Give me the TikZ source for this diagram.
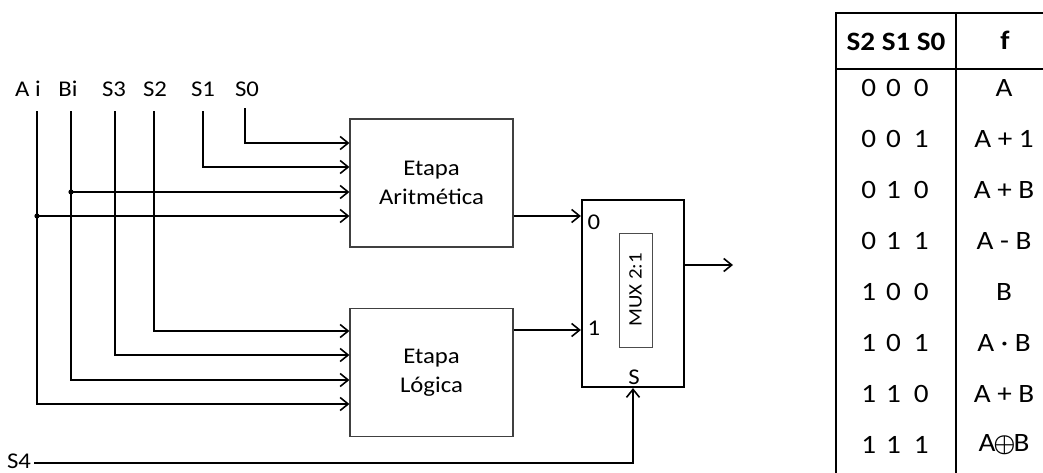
\documentclass[tikz,border=0pt]{standalone}
\usepackage{amsmath}
\usepackage{fontspec}
\setmainfont{Carlito}[FakeStretch=1.1]
\usetikzlibrary{arrows.meta}
\tikzset{
	fleche/.style={-{Straight Barb[length=8pt,width=13pt]},line width=1.6pt},
	bloc/.style={draw=black!75,line width=1.2pt,minimum width=163pt,minimum height=128pt,align=center,font=\fontsize{22.5}{29}\selectfont},
	etiq/.style={font=\fontsize{22.5}{25}\selectfont},
	tabl/.style={line width=2.4pt},
	tabtxt/.style={font=\fontsize{26.5}{30}\selectfont}
}
\newcommand\trois[3]{#1\hspace{10pt}#2\hspace{13pt}#3}
\begin{document}
\begin{tikzpicture}[x=1pt,y=-1pt]
		\useasboundingbox (0,0) rectangle (1043,472);
		\clip (0,0) rectangle (1043,472);
		
		% entrees
		\node[etiq] (lai) at (28,89) {A i};
		\node[etiq] (lbi) at (68,89) {Bi};
		\node[etiq] (ls3) at (114,89) {S3};
		\node[etiq] (ls2) at (155,89) {S2};
		\node[etiq] (ls1) at (203,89) {S1};
		\node[etiq] (ls0) at (247,89) {S0};
		\coordinate (ai) at (37,111);
		\coordinate (bi) at (71,111);
		\coordinate (s3) at (115,111);
		\coordinate (s2) at (154,111);
		\coordinate (s1) at (203,111);
		\coordinate (s0) at (245,108);
		\coordinate (ai1) at (37,216);
		\coordinate (bi1) at (71,192);
		
		% blocs
		\node[bloc] (arit) at (431.5,183) {Etapa\\Aritmética};
		\node[bloc] (logi) at (431.5,372.5) {Etapa\\Lógica};
		\node[draw,line width=2.2pt,minimum width=102pt,minimum height=187pt] (mux) at (633,293.5) {};
		\node[draw=black!70,line width=1pt,minimum width=114pt,minimum height=33pt,rotate=90,font=\fontsize{19}{20}\selectfont] (muxtxt) at (635.5,290) {MUX 2:1};
		\node[etiq] (m0) at (594,222) {0};
		\node[etiq] (m1) at (594,328) {1};
		\node[etiq] (ms) at (634,377) {S};
		
		\draw[fleche] (s0) |- (arit.west |- 0,143);
		\draw[fleche] (s1) |- (arit.west |- 0,167);
		\draw[fleche] (bi1) -- (arit.west |- bi1);
		\draw[fleche] (ai1) -- (arit.west |- ai1);
		\fill (bi1) circle (2.6pt);
		\fill (ai1) circle (2.6pt);
		\draw[fleche] (s2) |- (logi.west |- 0,331);
		\draw[fleche] (s3) |- (logi.west |- 0,355);
		\draw[fleche] (bi) |- (logi.west |- 0,380);
		\draw[fleche] (ai) |- (logi.west |- 0,404);
		
		\draw[fleche] (arit.east |- 0,216) -- (mux.west |- 0,216);
		\draw[fleche] (logi.east |- 0,330) -- (mux.west |- 0,330);
		\coordinate (f) at (733,265);
		\draw[fleche] (mux.east |- f) -- (f);
		\node[etiq] (ls4) at (19,461) {S4};
		\draw[fleche] (ls4.east |- 0,463) -| (mux.south);
		
		% table
		\draw[tabl] (836,480) -- (836,13) -- (1050,13);
		\draw[tabl] (956,13) -- (956,480);
		\draw[tabl] (836,69) -- (1050,69);
		\node[tabtxt] (hs) at (896,42) {\textbf{S2 S1 S0}};
		\node[tabtxt] (hf) at (1005,40) {\textbf{f}};
		\foreach \p/\q/\r/\res [count=\i from 0] in {0/0/0/A, 0/0/1/A + 1, 0/1/0/A + B, 0/1/1/A - B, 1/0/0/B, 1/0/1/A · B, 1/1/0/A + B, 1/1/1/A\kern-2pt{\fontsize{27}{30}\selectfont$\boldsymbol\oplus$}\kern-2ptB}{
			\node[tabtxt] (r\i) at (895,88+51*\i) {\trois\p\q\r};
			\node[tabtxt] (f\i) at (1004,88+51*\i) {\res};}
		
	\end{tikzpicture}
\end{document}
